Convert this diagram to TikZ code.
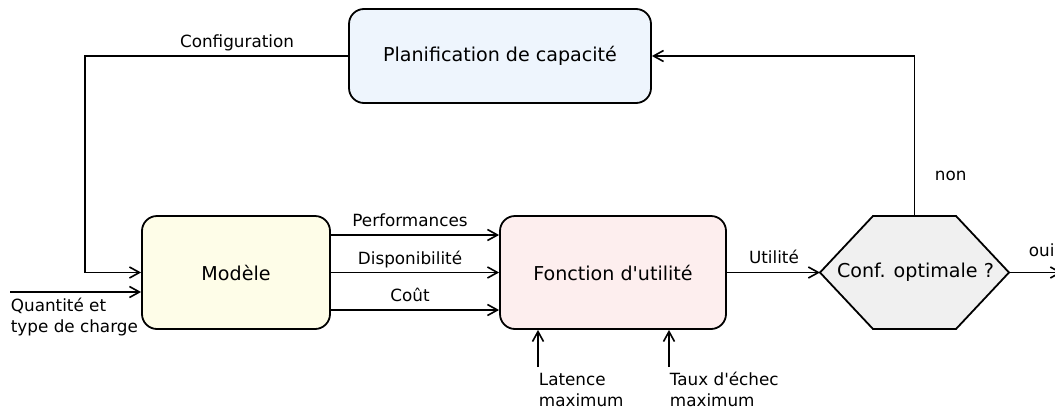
\documentclass[tikz,border=0pt]{standalone}
\usepackage{fontspec}
\setmainfont{DejaVu Sans}[Ligatures=TeXOff]
\usetikzlibrary{arrows.meta,calc}
\definecolor{planfill}{HTML}{EEF5FD}
\definecolor{modfill}{HTML}{FEFDE8}
\definecolor{foncfill}{HTML}{FDEEEE}
\definecolor{hexfill}{HTML}{F0F0F0}
\begin{document}
\begin{tikzpicture}[x=1pt,y=-1pt,
  line width=1.8pt,
  box/.style={draw, rounded corners=15pt, inner sep=0pt, font=\fontsize{19.1}{22}\selectfont},
  lbl/.style={inner sep=0pt, font=\fontsize{16.8}{20.5}\selectfont},
  arr/.style={-{Straight Barb[length=10pt,width=11pt,line width=1.6pt]}},
  hexshape/.style={draw, fill=hexfill, line join=miter}
]
\useasboundingbox (0,0) rectangle (1055,410);

% boxes
\node[box, fill=planfill, minimum width=302pt, minimum height=94pt] (plan) at (500,56) {Planification de capacité};
\node[box, fill=modfill, minimum width=188pt, minimum height=113pt] (mod) at (236,272.5) {Modèle};
\node[box, fill=foncfill, minimum width=226pt, minimum height=113pt] (fonc) at (613,272.5) {Fonction d'utilité};

% hexagon
\coordinate (hexw) at (820,272.5);
\coordinate (hexe) at (1009,272.5);
\coordinate (hexn) at (914.5,216);
\draw[hexshape] (hexw) -- (873,216) -- (956,216) -- (hexe) -- (956,329) -- (873,329) -- cycle;
\node[inner sep=0pt, font=\fontsize{19.1}{22}\selectfont] (hex) at (915.5,272.5) {Conf. optimale ?};

% configuration feedback
\coordinate (c1) at (85,56);
\draw[arr] (plan.west) -- (c1) |- (mod.west);
\node[lbl, anchor=base] (lconf) at (237,47) {Configuration};

% load input
\coordinate (in) at (10,292);
\draw[arr] (in) -- (in -| mod.west);
\node[lbl, anchor=base west, align=left] (lin) at (10,332) {Quantité et\\type de charge};

% three outputs
\draw[arr] (mod.east |- 0,235) -- (fonc.west |- 0,235);
\draw[arr] (mod.east |- 0,272.5) -- (fonc.west |- 0,272.5);
\draw[arr] (mod.east |- 0,310) -- (fonc.west |- 0,310);
\node[lbl, anchor=base] (lperf) at (410,226) {Performances};
\node[lbl, anchor=base] (ldisp) at (410,264) {Disponibilité};
\node[lbl, anchor=base] (lcout) at (410,301) {Coût};

% utility
\draw[arr] (fonc.east) -- (hexw);
\node[lbl, anchor=base] (lutil) at (774,263) {Utilité};

% oui
\coordinate (out) at (1062,272.5);
\draw[arr] (hexe) -- (out);
\node[lbl, anchor=base west] (loui) at (1028,256) {oui};

% non
\coordinate (c2) at (914.5,56);
\draw[arr] (hexn) -- (c2) -- (plan.east);
\node[lbl, anchor=base west] (lnon) at (934,180) {non};

% constraints
\coordinate (lat) at (538,367);
\coordinate (taux) at (669,367);
\draw[arr] (lat) -- (lat |- fonc.south);
\draw[arr] (taux) -- (taux |- fonc.south);
\node[lbl, anchor=base west, align=left] (llat) at (538,406) {Latence\\maximum};
\node[lbl, anchor=base west, align=left] (ltaux) at (669,406) {Taux d'échec\\maximum};
\end{tikzpicture}
\end{document}
